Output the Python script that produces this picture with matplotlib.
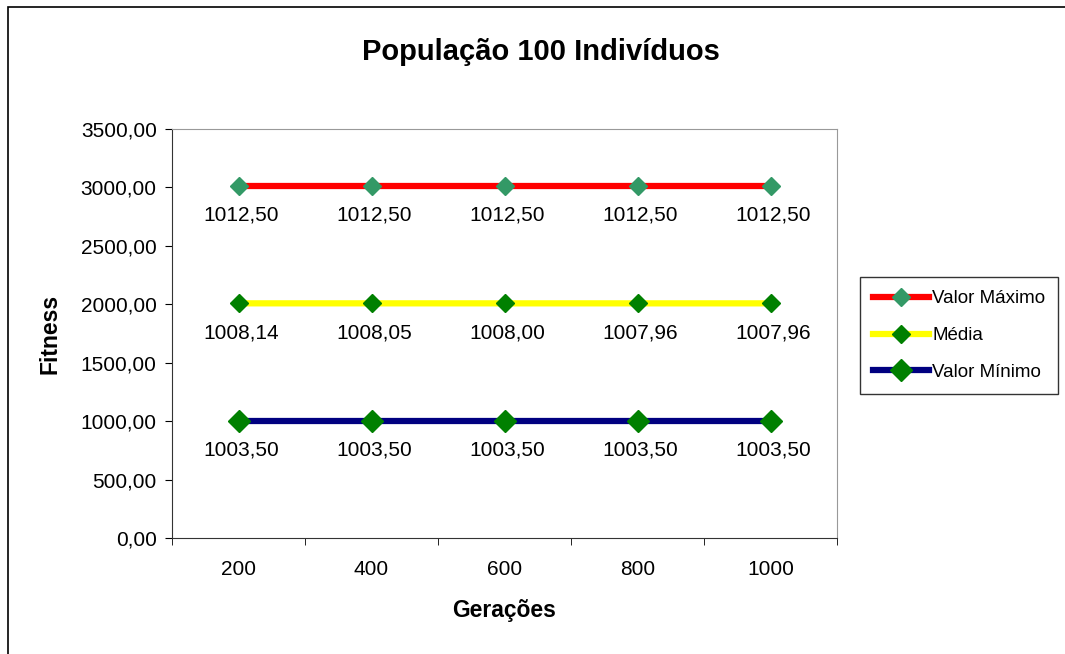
import matplotlib
matplotlib.use("Agg")
import matplotlib.pyplot as plt
from matplotlib.patches import Rectangle
from matplotlib.ticker import FuncFormatter, FixedLocator

plt.rcParams["font.family"] = ["Liberation Sans", "DejaVu Sans"]

geracoes = ["200", "400", "600", "800", "1000"]
valor_maximo = [1012.50, 1012.50, 1012.50, 1012.50, 1012.50]
media = [1008.14, 1008.05, 1008.00, 1007.96, 1007.96]
valor_minimo = [1003.50, 1003.50, 1003.50, 1003.50, 1003.50]
# deslocamento usado na planilha para separar as séries
deslocamentos = [2000, 1000, 0]

series = [
    ("Valor Máximo", valor_maximo, "#FF0000", "#339966", 9),
    ("Média", media, "#FFFF00", "#008000", 9),
    ("Valor Mínimo", valor_minimo, "#000080", "#008000", 11),
]

fig = plt.figure(figsize=(10.65, 6.54), dpi=100)
fig.patches.append(Rectangle((8 / 1065, -0.1), 1.2, 1.1 - 7 / 654,
                             transform=fig.transFigure, fill=False,
                             edgecolor="black", linewidth=1.2))
ax = fig.add_axes([172 / 1065, 1 - 538 / 654, (837 - 172) / 1065, (538 - 129) / 654])

x = list(range(len(geracoes)))
for (nome, valores, cor, cor_marc, ms), desl in zip(series, deslocamentos):
    y = [v + desl for v in valores]
    ax.plot(x, y, color=cor, linewidth=4.5, marker="D", markersize=ms,
            markerfacecolor=cor_marc, markeredgecolor=cor_marc, label=nome)
    for xi, yi, v in zip(x, y, valores):
        ax.annotate(f"{v:.2f}".replace(".", ","), (xi, yi), xytext=(2, -21),
                    textcoords="offset points", ha="center", va="center",
                    fontsize=15)

ax.set_xlim(-0.5, len(geracoes) - 0.5)
ax.set_ylim(0, 3500)
ax.set_yticks(range(0, 3501, 500))
ax.yaxis.set_major_formatter(FuncFormatter(lambda v, p: f"{v:.2f}".replace(".", ",")))
ax.set_xticks(x)
ax.set_xticklabels(geracoes)
ax.xaxis.set_minor_locator(FixedLocator([i - 0.5 for i in range(len(geracoes) + 1)]))
ax.tick_params(axis="x", which="major", length=0, pad=16, labelsize=15)
ax.tick_params(axis="x", which="minor", length=5, direction="out")
ax.tick_params(axis="y", length=5, direction="out", labelsize=15, pad=6)

for lado in ["left", "bottom"]:
    ax.spines[lado].set_color("#333333")
for lado in ["top", "right"]:
    ax.spines[lado].set_color("#999999")

ax.set_xlabel("Gerações", fontsize=16.5, fontweight="bold", labelpad=14)
ax.set_ylabel("Fitness", fontsize=16.5, fontweight="bold", labelpad=14)
fig.text(541 / 1065, 1 - 52 / 654, "População 100 Indivíduos", fontsize=21,
         fontweight="bold", ha="center", va="center")

leg = fig.legend(loc="upper left", bbox_to_anchor=(860 / 1065, 1 - 277 / 654),
                 fontsize=13.5, frameon=True, fancybox=False, edgecolor="black",
                 handlelength=3.0, handletextpad=0.15, borderpad=0.7,
                 labelspacing=1.05, borderaxespad=0)
leg.get_frame().set_linewidth(1)

fig.savefig("out.png", dpi=100)
